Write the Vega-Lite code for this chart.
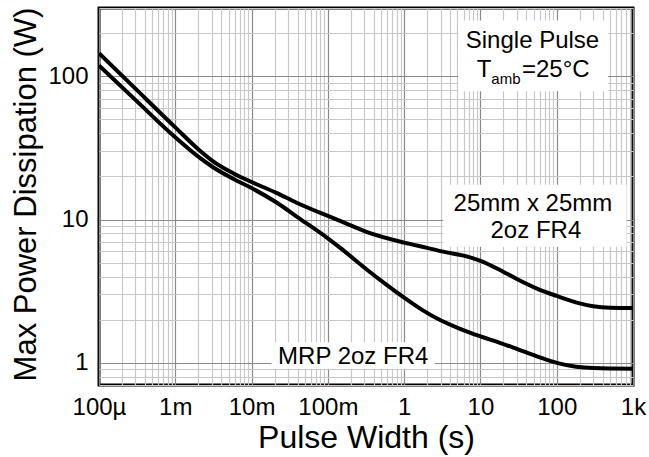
{
  "$schema": "https://vega.github.io/schema/vega-lite/v6.json",
  "width": 534,
  "height": 377,
  "autosize": {"type": "none"},
  "padding": {"left": 99, "top": 8, "right": 16, "bottom": 72},
  "background": "white",
  "config": {
    "view": {"stroke": "#000000", "strokeWidth": 3},
    "font": "Liberation Sans"
  },
  "encoding": {
    "x": {
      "field": "x",
      "type": "quantitative",
      "scale": {"type": "log", "domain": [0.0001, 1000], "nice": false},
      "axis": {
        "title": "Pulse Width (s)",
        "values": [0.0001, 0.0002, 0.0003, 0.0004, 0.0005, 0.0006, 0.0007, 0.0008, 0.0009, 0.001, 0.002, 0.003, 0.004, 0.005, 0.006, 0.007, 0.008, 0.009, 0.01, 0.02, 0.03, 0.04, 0.05, 0.06, 0.07, 0.08, 0.09, 0.1, 0.2, 0.3, 0.4, 0.5, 0.6, 0.7, 0.8, 0.9, 1, 2, 3, 4, 5, 6, 7, 8, 9, 10, 20, 30, 40, 50, 60, 70, 80, 90, 100, 200, 300, 400, 500, 600, 700, 800, 900, 1000],
        "grid": true,
        "gridColor": {"condition": {"test": "indexof([0.0001, 0.001, 0.01, 0.1, 1, 10, 100, 1000], datum.value) >= 0", "value": "#8a8a8a"}, "value": "#c8c8c8"},
        "gridWidth": 1.2,
        "ticks": false,
        "domain": false,
        "labelExpr": "datum.value == 0.0001 ? '100µ' : datum.value == 0.001 ? '1m' : datum.value == 0.01 ? '10m' : datum.value == 0.1 ? '100m' : datum.value == 1 ? '1' : datum.value == 10 ? '10' : datum.value == 100 ? '100' : datum.value == 1000 ? '1k' : ''",
        "labelFlush": false,
        "labelOverlap": false,
        "labelBound": false,
        "labelFont": "Liberation Sans",
        "labelFontSize": 24,
        "labelColor": "#000000",
        "labelPadding": 10,
        "titleFont": "Liberation Sans",
        "titleFontSize": 32,
        "titleFontWeight": "normal",
        "titleColor": "#000000",
        "titleX": 267,
        "titleY": 62,
        "titleAlign": "center",
        "titleBaseline": "alphabetic"
      }
    },
    "y": {
      "field": "y",
      "type": "quantitative",
      "scale": {"type": "log", "domain": [0.7, 300], "nice": false},
      "axis": {
        "title": "Max Power Dissipation (W)",
        "values": [0.7, 0.8, 0.9, 1, 2, 3, 4, 5, 6, 7, 8, 9, 10, 20, 30, 40, 50, 60, 70, 80, 90, 100, 200, 300],
        "grid": true,
        "gridColor": {"condition": {"test": "indexof([1, 10, 100], datum.value) >= 0", "value": "#8a8a8a"}, "value": "#c8c8c8"},
        "gridWidth": 1.2,
        "ticks": false,
        "domain": false,
        "labelExpr": "datum.value == 1 ? '1' : datum.value == 10 ? '10' : datum.value == 100 ? '100' : ''",
        "labelFlush": false,
        "labelOverlap": false,
        "labelBound": false,
        "labelFont": "Liberation Sans",
        "labelFontSize": 24,
        "labelColor": "#000000",
        "labelPadding": 11,
        "titleFont": "Liberation Sans",
        "titleFontSize": 31,
        "titleFontWeight": "normal",
        "titleColor": "#000000",
        "titleAngle": 270,
        "titleX": -63.5,
        "titleY": 186,
        "titleAlign": "center",
        "titleBaseline": "alphabetic"
      }
    }
  },
  "layer": [
    {
      "data": {"values": [
        {"x": 5.12, "x2": 469, "y": 245, "y2": 78.7},
        {"x": 3.25, "x2": 824, "y": 17.5, "y2": 6.46},
        {"x": 0.0183, "x2": 2.54, "y": 1.39, "y2": 0.908}
      ]},
      "mark": {"type": "rect", "fill": "#ffffff", "strokeWidth": 0},
      "encoding": {
        "x2": {"field": "x2"},
        "y2": {"field": "y2"}
      }
    },
    {
      "data": {"values": [
        {"series": "25mm x 25mm 2oz FR4", "x": 0.0001, "y": 145},
        {"series": "25mm x 25mm 2oz FR4", "x": 0.0003, "y": 82},
        {"series": "25mm x 25mm 2oz FR4", "x": 0.001, "y": 44},
        {"series": "25mm x 25mm 2oz FR4", "x": 0.002, "y": 31},
        {"series": "25mm x 25mm 2oz FR4", "x": 0.0032, "y": 25.3},
        {"series": "25mm x 25mm 2oz FR4", "x": 0.0058, "y": 21.0},
        {"series": "25mm x 25mm 2oz FR4", "x": 0.01, "y": 18.3},
        {"series": "25mm x 25mm 2oz FR4", "x": 0.0215, "y": 15.3},
        {"series": "25mm x 25mm 2oz FR4", "x": 0.039, "y": 13.1},
        {"series": "25mm x 25mm 2oz FR4", "x": 0.1, "y": 10.6},
        {"series": "25mm x 25mm 2oz FR4", "x": 0.144, "y": 9.8},
        {"series": "25mm x 25mm 2oz FR4", "x": 0.32, "y": 8.2},
        {"series": "25mm x 25mm 2oz FR4", "x": 1, "y": 6.9},
        {"series": "25mm x 25mm 2oz FR4", "x": 2, "y": 6.35},
        {"series": "25mm x 25mm 2oz FR4", "x": 3.6, "y": 5.9},
        {"series": "25mm x 25mm 2oz FR4", "x": 6, "y": 5.6},
        {"series": "25mm x 25mm 2oz FR4", "x": 10, "y": 5.15},
        {"series": "25mm x 25mm 2oz FR4", "x": 18, "y": 4.45},
        {"series": "25mm x 25mm 2oz FR4", "x": 30, "y": 3.85},
        {"series": "25mm x 25mm 2oz FR4", "x": 55, "y": 3.3},
        {"series": "25mm x 25mm 2oz FR4", "x": 100, "y": 2.93},
        {"series": "25mm x 25mm 2oz FR4", "x": 200, "y": 2.6},
        {"series": "25mm x 25mm 2oz FR4", "x": 300, "y": 2.48},
        {"series": "25mm x 25mm 2oz FR4", "x": 500, "y": 2.42},
        {"series": "25mm x 25mm 2oz FR4", "x": 1000, "y": 2.41},
        {"series": "MRP 2oz FR4", "x": 0.0001, "y": 119},
        {"series": "MRP 2oz FR4", "x": 0.0003, "y": 68.5},
        {"series": "MRP 2oz FR4", "x": 0.001, "y": 37.5},
        {"series": "MRP 2oz FR4", "x": 0.002, "y": 27.5},
        {"series": "MRP 2oz FR4", "x": 0.0032, "y": 23.0},
        {"series": "MRP 2oz FR4", "x": 0.0058, "y": 19.2},
        {"series": "MRP 2oz FR4", "x": 0.01, "y": 16.6},
        {"series": "MRP 2oz FR4", "x": 0.0215, "y": 13.1},
        {"series": "MRP 2oz FR4", "x": 0.039, "y": 10.5},
        {"series": "MRP 2oz FR4", "x": 0.1, "y": 7.4},
        {"series": "MRP 2oz FR4", "x": 0.144, "y": 6.37},
        {"series": "MRP 2oz FR4", "x": 0.32, "y": 4.5},
        {"series": "MRP 2oz FR4", "x": 0.55, "y": 3.6},
        {"series": "MRP 2oz FR4", "x": 1, "y": 2.85},
        {"series": "MRP 2oz FR4", "x": 1.7, "y": 2.35},
        {"series": "MRP 2oz FR4", "x": 3, "y": 1.98},
        {"series": "MRP 2oz FR4", "x": 5.5, "y": 1.72},
        {"series": "MRP 2oz FR4", "x": 10, "y": 1.53},
        {"series": "MRP 2oz FR4", "x": 18, "y": 1.38},
        {"series": "MRP 2oz FR4", "x": 30, "y": 1.25},
        {"series": "MRP 2oz FR4", "x": 55, "y": 1.11},
        {"series": "MRP 2oz FR4", "x": 100, "y": 1.0},
        {"series": "MRP 2oz FR4", "x": 180, "y": 0.94},
        {"series": "MRP 2oz FR4", "x": 300, "y": 0.92},
        {"series": "MRP 2oz FR4", "x": 1000, "y": 0.91}
      ]},
      "mark": {"type": "line", "color": "#000000", "strokeWidth": 4, "interpolate": "monotone", "clip": true},
      "encoding": {
        "detail": {"field": "series", "type": "nominal"}
      }
    },
    {
      "data": {"values": [
        {"x": 48.1, "y": 157.3, "text": "Single Pulse"},
        {"x": 48.8, "y": 11.4, "text": "25mm x 25mm"},
        {"x": 53.3, "y": 7.46, "text": "2oz FR4"},
        {"x": 0.215, "y": 0.984, "text": "MRP 2oz FR4"}
      ]},
      "mark": {"type": "text", "align": "center", "baseline": "alphabetic", "font": "Liberation Sans", "fontSize": 24, "color": "#000000"},
      "encoding": {"text": {"field": "text", "type": "nominal"}}
    },
    {
      "data": {"values": [{"x": 13.9, "y": 98.9, "text": "T"}]},
      "mark": {"type": "text", "align": "right", "baseline": "alphabetic", "font": "Liberation Sans", "fontSize": 24, "color": "#000000"},
      "encoding": {"text": {"field": "text", "type": "nominal"}}
    },
    {
      "data": {"values": [{"x": 13.9, "y": 89.0, "text": "amb"}]},
      "mark": {"type": "text", "align": "left", "baseline": "alphabetic", "font": "Liberation Sans", "fontSize": 15, "color": "#000000"},
      "encoding": {"text": {"field": "text", "type": "nominal"}}
    },
    {
      "data": {"values": [{"x": 35.0, "y": 98.9, "text": "=25°C"}]},
      "mark": {"type": "text", "align": "left", "baseline": "alphabetic", "font": "Liberation Sans", "fontSize": 24, "color": "#000000"},
      "encoding": {"text": {"field": "text", "type": "nominal"}}
    }
  ]
}
